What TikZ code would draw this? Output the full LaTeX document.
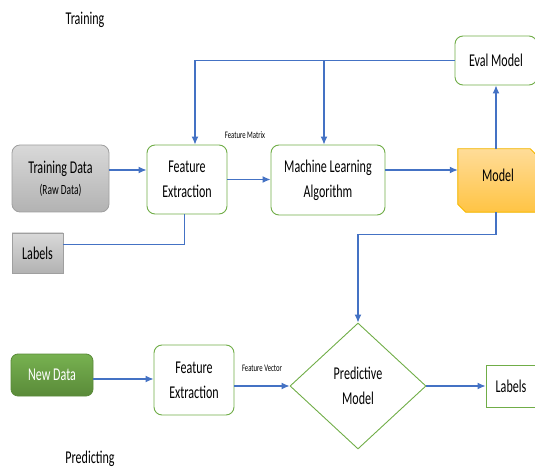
\documentclass[tikz,border=0pt]{standalone}
\usepackage{fontspec}
\setmainfont{Carlito}
\usetikzlibrary{arrows.meta,shapes.geometric,calc}
\newcommand{\sq}[1]{\scalebox{0.67}[1]{#1}}
\definecolor{lineblue}{HTML}{4472C4}
\definecolor{boxgreen}{HTML}{70AD47}
\definecolor{modeltop}{HTML}{FFDC98}
\definecolor{modelbot}{HTML}{FFC444}
\definecolor{modeledge}{HTML}{FFC000}
\tikzset{
  big/.style={font=\fontsize{18}{25}\selectfont},
  small/.style={font=\fontsize{10}{12}\selectfont},
  greenbox/.style={draw=boxgreen,line width=0.9pt,rounded corners=8pt,fill=white,big,align=center,inner sep=0pt},
  graybox/.style={draw=gray!75,line width=0.8pt,top color=gray!30,bottom color=gray!60,big,align=center,inner sep=0pt},
  arr/.style={draw=lineblue,line width=1.2pt,-{Latex[length=8pt,width=7pt]}},
  plain/.style={draw=lineblue,line width=1pt},
}
\begin{document}
\begin{tikzpicture}[x=1pt,y=-1pt]
\clip (0,0) rectangle (535,470);
\useasboundingbox (0,0) rectangle (535,470);
% titles
\node[big] (ttrain) at (85,20) {\sq{Training}};
\node[big] (tpred) at (90,459) {\sq{Predicting}};
% training row
\node[graybox,rounded corners=8pt,minimum width=97pt,minimum height=67pt] (train) at (60.5,178.5)
  {\sq{Training Data}\\[-4pt]{\fontsize{14}{16}\selectfont\sq{(Raw Data)}}};
\node[greenbox,minimum width=80pt,minimum height=69pt] (fe1) at (187,179.5) {\sq{Feature}\\\sq{Extraction}};
\node[graybox,minimum width=51pt,minimum height=40pt] (lab1) at (37.5,253) {\sq{Labels}};
\node[greenbox,minimum width=114pt,minimum height=70pt] (mla) at (328,180) {\sq{Machine Learning}\\\sq{Algorithm}};
\node[minimum width=80pt,minimum height=63pt,inner sep=0pt] (model) at (498,180.5) {};
\fill[top color=modeltop,bottom color=modelbot,draw=modeledge,line width=0.9pt]
  (model.north west) -- ([xshift=-8]model.north east) -- ([yshift=-8]model.north east)
  -- (model.south east) -- ([xshift=8]model.south west) -- ([yshift=8]model.south west) -- cycle;
\node[big] (modeltext) at ([yshift=5]model.center) {\sq{Model}};
\node[greenbox,minimum width=82pt,minimum height=49pt] (eval) at (496,60.5) {\sq{Eval Model}};
% predicting row
\node[draw=boxgreen!80!black,line width=0.8pt,rounded corners=7pt,top color=boxgreen!95,bottom color=boxgreen!80!black,
  text=white,big,inner sep=0pt,minimum width=82pt,minimum height=42pt] (newd) at (52,375) {\sq{New Data}};
\node[greenbox,minimum width=80pt,minimum height=70pt] (fe2) at (194,380) {\sq{Feature}\\\sq{Extraction}};
\node[diamond,draw=boxgreen,line width=0.9pt,big,align=center,inner sep=0pt,
  minimum width=136pt,minimum height=126pt] (dia) at (358,386) {\sq{Predictive}\\\sq{Model}};
\node[draw=boxgreen,line width=0.9pt,big,inner sep=0pt,minimum width=50pt,minimum height=42pt] (lab2) at (511,386) {\sq{Labels}};
% small labels
\node[small] (fmat) at (245,135) {\sq{Feature Matrix}};
\node[small] (fvec) at (262,368) {\sq{Feature Vector}};
% connectors
\draw[arr] ([yshift=8.5]train.east) -- ([yshift=8.5]train.east -| fe1.west);
\draw[arr] (fe1.east) -- (fe1.east -| mla.west);
\draw[arr] ([yshift=10]mla.east) -- ([yshift=10]mla.east -| model.west);
\draw[arr] ([xshift=-2]model.north) -- ([xshift=-2]model.north |- eval.south);
\draw[arr] (eval.west) -| ([xshift=8]fe1.north);
\draw[arr] ([xshift=-4]mla.north |- eval.west) -- ([xshift=-4]mla.north);
\draw[plain] ([yshift=8]lab1.east) -| ([xshift=-3]fe1.south);
\draw[arr] ([xshift=-2]model.south) -- ++(0,22) -| (dia.north);
\draw[arr] ([yshift=-4]newd.east) -- ([yshift=-4]newd.east -| fe2.west);
\draw[arr] (fe2.east |- dia.west) -- (dia.west);
\draw[arr] (dia.east) -- (lab2.west);
\end{tikzpicture}
\end{document}
